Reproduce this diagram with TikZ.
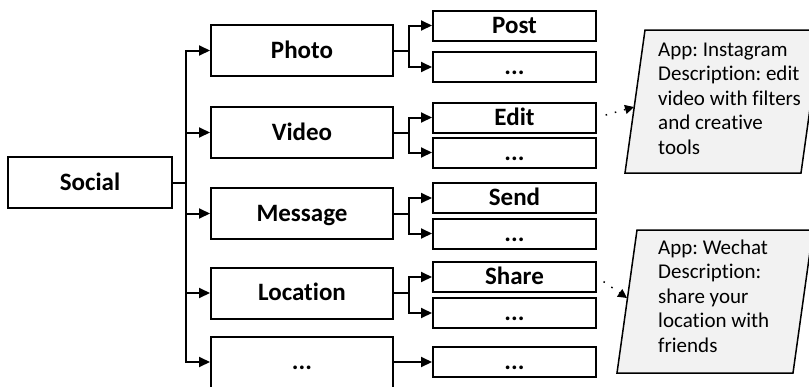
\documentclass[tikz,border=0pt]{standalone}
\usepackage{fontspec}
\setmainfont{Carlito}[Ligatures=NoCommon]
\usetikzlibrary{arrows.meta}
\frenchspacing

\tikzset{
  rootbox/.style={draw, line width=2pt, minimum width=164pt, minimum height=51pt, inner sep=0pt, text height=18pt, text depth=3pt, font=\fontsize{25}{30}\selectfont\bfseries},
  mainbox/.style={draw, line width=2pt, minimum width=182pt, minimum height=51pt, inner sep=0pt, text height=18pt, text depth=3pt, font=\fontsize{25}{30}\selectfont\bfseries},
  leafbox/.style={draw, line width=2pt, minimum width=163pt, minimum height=30pt, inner sep=0pt, text height=18pt, text depth=3pt, font=\fontsize{25}{30}\selectfont\bfseries},
  link/.style={line width=2pt, -{Triangle[length=11pt,width=10pt]}},
  notelink/.style={line width=1.5pt, dash pattern=on 1.5pt off 8pt, -{Triangle[length=9pt,width=9pt]}},
  notebox/.style={draw, line width=1.5pt, fill=black!5},
  notetext/.style={align=left, inner sep=0pt, font=\fontsize{21}{24.5}\selectfont}
}

\begin{document}
\begin{tikzpicture}[x=1pt, y=-1pt]
  \useasboundingbox (0,0) rectangle (809,386);

  % root and first level
  \node[rootbox] (social) at (90,182.5) {Social};
  \node[mainbox] (photo) at (302,50.5) {Photo};
  \node[mainbox] (video) at (302,132.5) {Video};
  \node[mainbox] (message) at (302,213.5) {Message};
  \node[mainbox] (location) at (302,293) {Location};
  \node[mainbox] (more) at (302,362) {...};

  % second level
  \node[leafbox] (post) at (514.5,25.5) {Post};
  \node[leafbox] (photo-more) at (514.5,67) {...};
  \node[leafbox] (edit) at (514.5,117.5) {Edit};
  \node[leafbox] (video-more) at (514.5,152.5) {...};
  \node[leafbox] (send) at (514.5,198) {Send};
  \node[leafbox] (message-more) at (514.5,233.5) {...};
  \node[leafbox] (share) at (514.5,277) {Share};
  \node[leafbox] (location-more) at (514.5,313) {...};
  \node[leafbox] (more-leaf) at (514.5,362) {...};

  % trunk from the root
  \coordinate (trunk) at (186,182.5);
  \draw[line width=2pt] (social.east) -- (trunk);
  \draw[link] (trunk) |- (photo.west);
  \draw[link] (trunk) |- (video.west);
  \draw[link] (trunk) |- (message.west);
  \draw[link] (trunk) |- (location.west);
  \draw[link] (trunk) |- (more.west);

  % forks to the second level
  \draw[line width=2pt] (photo.east) -- ++(15,0) coordinate (photo-fork);
  \draw[link] (photo-fork) |- (post.west);
  \draw[link] (photo-fork) |- (photo-more.west);
  \draw[line width=2pt] (video.east) -- ++(15,0) coordinate (video-fork);
  \draw[link] (video-fork) |- (edit.west);
  \draw[link] (video-fork) |- (video-more.west);
  \draw[line width=2pt] (message.east) -- ++(15,0) coordinate (message-fork);
  \draw[link] (message-fork) |- (send.west);
  \draw[link] (message-fork) |- (message-more.west);
  \draw[line width=2pt] (location.east) -- ++(15,0) coordinate (location-fork);
  \draw[link] (location-fork) |- (share.west);
  \draw[link] (location-fork) |- (location-more.west);
  \draw[link] (more.east) -- (more-leaf.west);

  % notes
  \draw[notebox] (625,173) -- (801,173) -- (821,30) -- (645,30) -- cycle;
  \coordinate (insta-in) at (634,107);
  \node[notetext, anchor=west] (insta) at (658,98.5) {App: Instagram\\Description: edit\\video with filters\\and creative\\tools};
  \draw[notebox] (617,373) -- (793,373) -- (813,230) -- (637,230) -- cycle;
  \coordinate (wechat-in) at (627,298);
  \node[notetext, anchor=west] (wechat) at (658,296) {App: Wechat\\Description:\\share your\\location with\\friends};

  \draw[notelink, shorten <=9pt] (edit.east) -- (insta-in);
  \draw[notelink, shorten <=8pt] (share.east) -- (wechat-in);
\end{tikzpicture}
\end{document}
